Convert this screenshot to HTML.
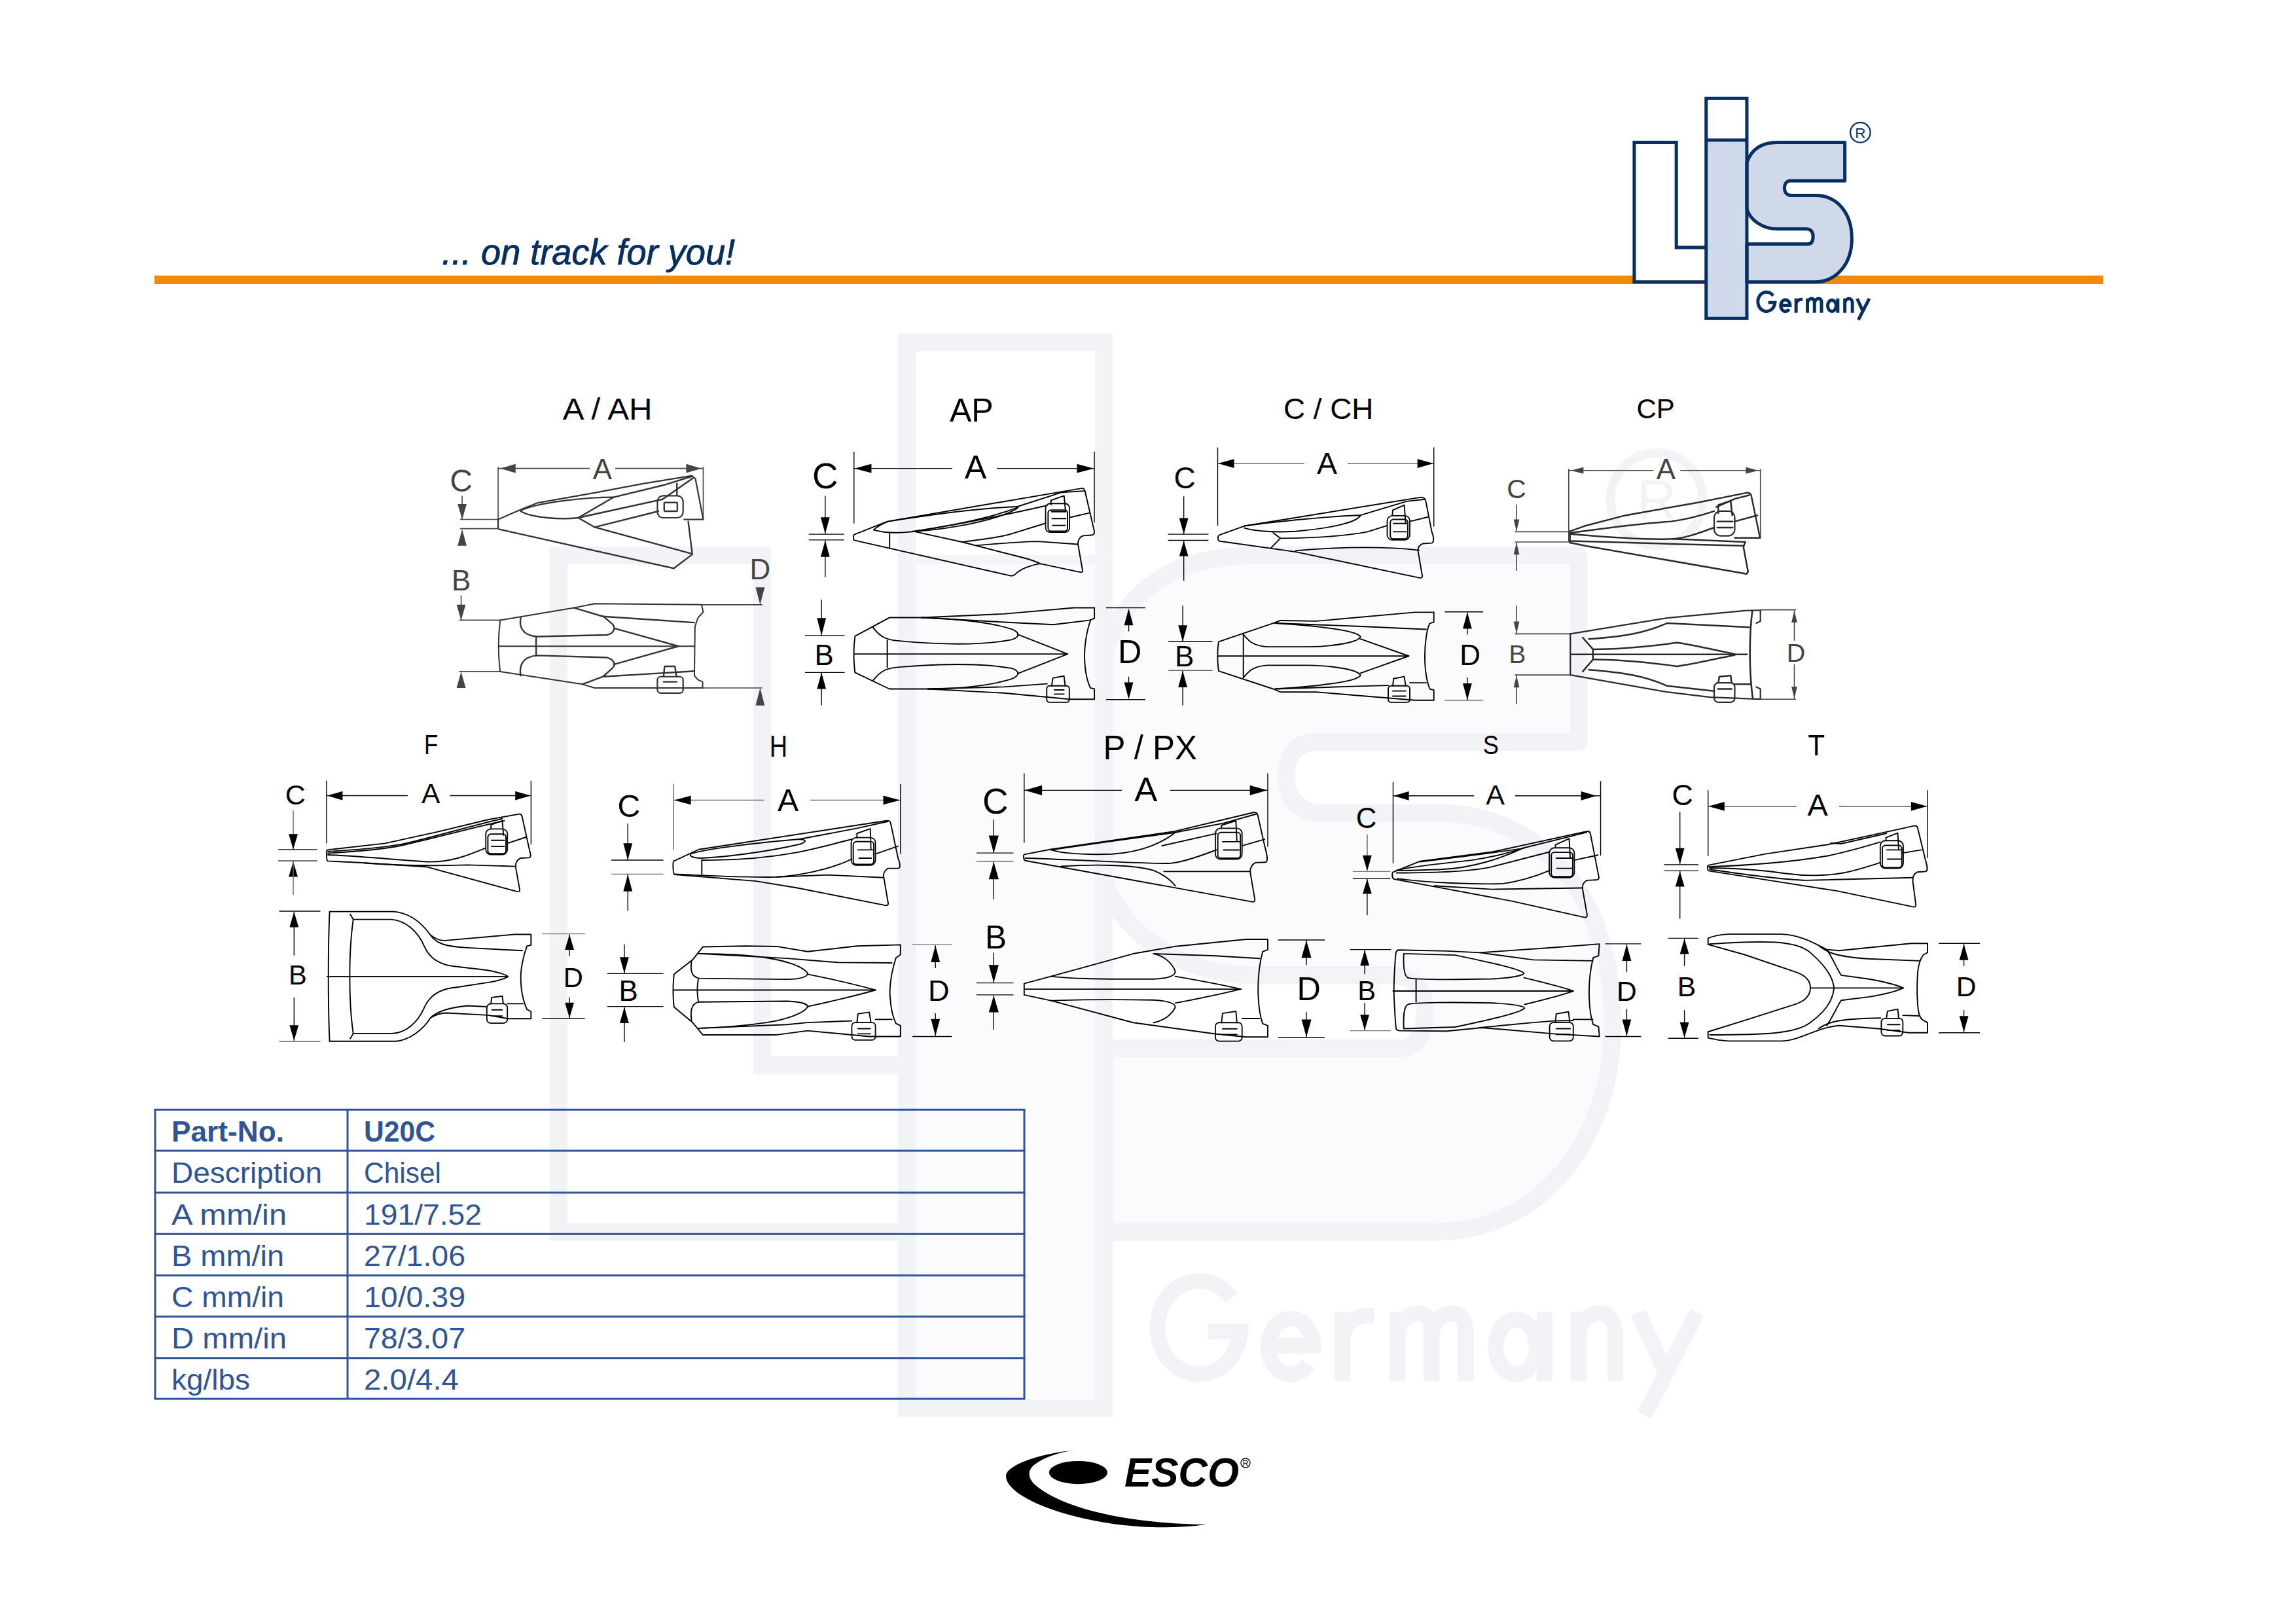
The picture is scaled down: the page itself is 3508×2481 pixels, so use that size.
<!DOCTYPE html>
<html><head><meta charset="utf-8"><title>LIS U20C</title>
<style>
html,body{margin:0;padding:0;background:#fff;}
body{width:3508px;height:2481px;overflow:hidden;position:relative;}
svg{position:absolute;left:0;top:0;}
text{font-family:"Liberation Sans",sans-serif;}
</style></head><body>
<svg width="3508" height="2481" viewBox="0 0 3508 2481">
<defs></defs>
<rect width="3508" height="2481" fill="#fff"/>
<!-- watermark -->
<g transform="translate(625.9,424.8) scale(1.10389)">
  <path d="M680,1089 H488 V384 H206 V1320 H680" fill="#fff" stroke="#f2f3f7" stroke-width="24.5"/>
  <rect x="688" y="89" width="273" height="1475" fill="#fff" stroke="none"/>
  <rect x="688" y="389.7" width="273" height="1174.3" fill="#fbfbfd" stroke="none"/>
  <path d="M961,520 C990,430 1060,384 1170,384 L1618,384 L1618,642 L1255,642 C1225,642 1213,665 1213,690 C1213,718 1230,740 1260,740 L1420,740 C1570,740 1665,860 1665,1030 C1665,1200 1560,1320 1420,1320 L961,1320 L961,1066 L1370,1066 C1395,1066 1405,1045 1405,1015 C1405,985 1390,965 1360,965 L1170,965 C1060,965 980,900 961,830 Z" fill="#fbfbfd" stroke="#f2f3f7" stroke-width="24.5" stroke-linejoin="round"/>
  <rect x="688" y="89" width="273" height="1475" fill="none" stroke="#f2f3f7" stroke-width="24.5"/>
  <line x1="688" y1="389.7" x2="961" y2="389.7" stroke="#f4f5f8" stroke-width="12.7"/>
  <g transform="translate(1009.5,1338.6) scale(0.36321)" fill="none" stroke="#f2f3f7" stroke-width="60">
    <path d="M352,202 A158,178 0 1 0 386,328 L262,328" stroke-linejoin="miter"/>
    <path d="M493,382 L664,382 A86,106 0 1 0 645,452"/>
    <path d="M775,517 L775,253 M775,345 C788,290 828,266 896,268"/>
    <path d="M985,517 L985,253 M985,335 C995,282 1030,258 1062,258 C1100,258 1115,288 1115,335 L1115,517 M1115,335 C1125,282 1160,258 1192,258 C1230,258 1245,288 1245,335 L1245,517"/>
    <ellipse cx="1437" cy="387" rx="78" ry="104"/>
    <path d="M1545,253 L1545,517"/>
    <path d="M1675,517 L1675,253 M1675,335 C1685,282 1720,258 1752,258 C1790,258 1815,288 1815,335 L1815,517"/>
    <path d="M1903,256 L2018,508 M2127,256 L1925,648"/>
  </g>
  <circle cx="1726" cy="306" r="64" fill="none" stroke="#f2f3f6" stroke-width="12.7"/>
  <text x="1726" y="333" text-anchor="middle" font-family="Liberation Sans" font-size="75" fill="#f2f3f6">R</text></g>

<rect x="236" y="421" width="2977" height="13" fill="#f08a08"/>
<text x="675" y="404" font-family="Liberation Sans" font-style="italic" font-size="56" fill="#082f60" stroke="#082f60" stroke-width="0.9" textLength="448" lengthAdjust="spacingAndGlyphs">... on track for you!</text>
<g transform="translate(2450,130) scale(0.227843)">
  <path d="M680,1089 H488 V384 H206 V1320 H680" fill="#fff" stroke="#082f60" stroke-width="22"/>
  <rect x="688" y="89" width="273" height="1475" fill="#fff" stroke="none"/>
  <rect x="688" y="369" width="273" height="1195" fill="#d0d9ea" stroke="none"/>
  <path d="M961,520 C990,430 1060,384 1170,384 L1618,384 L1618,642 L1255,642 C1225,642 1213,665 1213,690 C1213,718 1230,740 1260,740 L1420,740 C1570,740 1665,860 1665,1030 C1665,1200 1560,1320 1420,1320 L961,1320 L961,1066 L1370,1066 C1395,1066 1405,1045 1405,1015 C1405,985 1390,965 1360,965 L1170,965 C1060,965 980,900 961,830 Z" fill="#d0d9ea" stroke="#082f60" stroke-width="22" stroke-linejoin="round"/>
  <rect x="688" y="89" width="273" height="1475" fill="none" stroke="#082f60" stroke-width="22"/>
  <line x1="688" y1="369" x2="961" y2="369" stroke="#082f60" stroke-width="22"/>
  <g transform="translate(1009.5,1338.6) scale(0.36321)" fill="none" stroke="#082f60" stroke-width="60">
    <path d="M352,202 A158,178 0 1 0 386,328 L262,328" stroke-linejoin="miter"/>
    <path d="M493,382 L664,382 A86,106 0 1 0 645,452"/>
    <path d="M775,517 L775,253 M775,345 C788,290 828,266 896,268"/>
    <path d="M985,517 L985,253 M985,335 C995,282 1030,258 1062,258 C1100,258 1115,288 1115,335 L1115,517 M1115,335 C1125,282 1160,258 1192,258 C1230,258 1245,288 1245,335 L1245,517"/>
    <ellipse cx="1437" cy="387" rx="78" ry="104"/>
    <path d="M1545,253 L1545,517"/>
    <path d="M1675,517 L1675,253 M1675,335 C1685,282 1720,258 1752,258 C1790,258 1815,288 1815,335 L1815,517"/>
    <path d="M1903,256 L2018,508 M2127,256 L1925,648"/>
  </g>
  <circle cx="1722" cy="318" r="67" fill="none" stroke="#082f60" stroke-width="10"/>
  <text x="1722" y="355" text-anchor="middle" font-family="Liberation Sans" font-size="99" fill="#082f60">R</text></g>

<g stroke="#2f5597" stroke-width="3" fill="none">
<line x1="235.5" y1="1695.3" x2="1566.5" y2="1695.3"/>
<line x1="235.5" y1="1758.1" x2="1566.5" y2="1758.1"/>
<line x1="235.5" y1="1822" x2="1566.5" y2="1822"/>
<line x1="235.5" y1="1885.2" x2="1566.5" y2="1885.2"/>
<line x1="235.5" y1="1948.4" x2="1566.5" y2="1948.4"/>
<line x1="235.5" y1="2011.2" x2="1566.5" y2="2011.2"/>
<line x1="235.5" y1="2074.8" x2="1566.5" y2="2074.8"/>
<line x1="235.5" y1="2136.9" x2="1566.5" y2="2136.9"/>
<line x1="237" y1="1695.3" x2="237" y2="2136.9"/>
<line x1="531" y1="1695.3" x2="531" y2="2136.9"/>
<line x1="1565" y1="1695.3" x2="1565" y2="2136.9"/>
</g>
<g fill="#2f5597" font-family="Liberation Sans" font-size="44">
<text x="262" y="1743.9" font-weight="bold" textLength="172" lengthAdjust="spacingAndGlyphs">Part-No.</text><text x="556" y="1743.9" font-weight="bold" textLength="109" lengthAdjust="spacingAndGlyphs">U20C</text>
<text x="262" y="1806.7" textLength="230" lengthAdjust="spacingAndGlyphs">Description</text><text x="556" y="1806.7" textLength="118" lengthAdjust="spacingAndGlyphs">Chisel</text>
<text x="262" y="1870.6" textLength="176" lengthAdjust="spacingAndGlyphs">A mm/in</text><text x="556" y="1870.6" textLength="180" lengthAdjust="spacingAndGlyphs">191/7.52</text>
<text x="262" y="1933.8" textLength="172" lengthAdjust="spacingAndGlyphs">B mm/in</text><text x="556" y="1933.8" textLength="155" lengthAdjust="spacingAndGlyphs">27/1.06</text>
<text x="262" y="1997.0" textLength="172" lengthAdjust="spacingAndGlyphs">C mm/in</text><text x="556" y="1997.0" textLength="155" lengthAdjust="spacingAndGlyphs">10/0.39</text>
<text x="262" y="2059.8" textLength="176" lengthAdjust="spacingAndGlyphs">D mm/in</text><text x="556" y="2059.8" textLength="155" lengthAdjust="spacingAndGlyphs">78/3.07</text>
<text x="262" y="2123.4" textLength="120" lengthAdjust="spacingAndGlyphs">kg/lbs</text><text x="556" y="2123.4" textLength="145" lengthAdjust="spacingAndGlyphs">2.0/4.4</text>
</g>
<g fill="#000">
<path d="M1644,2215 C1580,2222 1537,2240 1537,2255 C1537,2290 1650,2330 1760,2333 C1800,2334 1830,2331 1843,2329 C1740,2328 1640,2310 1590,2275 C1570,2262 1568,2248 1580,2238 C1595,2226 1620,2218 1644,2215 Z"/>
<ellipse cx="1647.4" cy="2249.6" rx="44.6" ry="17.6"/>
<text x="1718" y="2271" font-family="Liberation Sans" font-weight="bold" font-style="italic" font-size="63" textLength="175" lengthAdjust="spacingAndGlyphs">ESCO</text>
<circle cx="1903" cy="2235" r="7" fill="none" stroke="#000" stroke-width="1.3"/>
<text x="1903" y="2239.5" text-anchor="middle" font-family="Liberation Sans" font-size="12">R</text>
</g>

<g transform="translate(670,580) scale(0.314010)" font-family="Liberation Sans">
<text x="822" y="195" font-size="146.6" text-anchor="middle" fill="#000" textLength="435" lengthAdjust="spacingAndGlyphs">A / AH</text>
<line x1="290" y1="432" x2="735" y2="432" stroke="#444" stroke-width="5.10"/>
<line x1="860" y1="432" x2="1288" y2="432" stroke="#444" stroke-width="5.10"/>
<line x1="290" y1="425" x2="290" y2="725" stroke="#444" stroke-width="5.10"/>
<line x1="1288" y1="425" x2="1288" y2="682" stroke="#444" stroke-width="5.10"/>
<path d="M300,432 L375,410 L375,454 Z" fill="#444"/>
<path d="M1280,432 L1205,410 L1205,454 Z" fill="#444"/>
<text x="797" y="485" font-size="139.7" text-anchor="middle" fill="#444">A</text>
<text x="110" y="545" font-size="153.6" text-anchor="middle" fill="#444">C</text>
<line x1="115" y1="565" x2="115" y2="680" stroke="#444" stroke-width="5.10"/>
<path d="M115,680 L93,605 L137,605 Z" fill="#444"/>
<line x1="105" y1="680" x2="290" y2="680" stroke="#444" stroke-width="5.10"/>
<line x1="105" y1="725" x2="290" y2="725" stroke="#444" stroke-width="5.10"/>
<path d="M115,728 L93,808 L137,808 Z" fill="#444"/>
<text x="110" y="1025" font-size="139.7" text-anchor="middle" fill="#444">B</text>
<line x1="110" y1="1050" x2="110" y2="1170" stroke="#444" stroke-width="5.10"/>
<path d="M110,1170 L88,1095 L132,1095 Z" fill="#444"/>
<line x1="100" y1="1170" x2="300" y2="1170" stroke="#444" stroke-width="5.10"/>
<line x1="100" y1="1420" x2="300" y2="1420" stroke="#444" stroke-width="5.10"/>
<path d="M110,1420 L88,1500 L132,1500 Z" fill="#444"/>
<text x="1565" y="970" font-size="139.7" text-anchor="middle" fill="#444">D</text>
<path d="M1565,1095 L1543,1010 L1587,1010 Z" fill="#444"/>
<line x1="1280" y1="1095" x2="1575" y2="1095" stroke="#444" stroke-width="5.10"/>
<line x1="1280" y1="1500" x2="1575" y2="1500" stroke="#444" stroke-width="5.10"/>
<path d="M1565,1500 L1543,1585 L1587,1585 Z" fill="#444"/>
<path d="M290,680 L290,725" fill="none" stroke="#333" stroke-width="7.64" stroke-linejoin="round" stroke-linecap="round"/>
<path d="M290,680 L400,632 L480,600 L750,552 L1000,505 L1232,468 L1250,482 L1288,680 L1195,680" fill="none" stroke="#333" stroke-width="7.01" stroke-linejoin="round" stroke-linecap="round"/>
<path d="M296,728 L1145,918 L1235,850 L1215,690" fill="none" stroke="#333" stroke-width="7.64" stroke-linejoin="round" stroke-linecap="round"/>
<path d="M400,636 C480,600 700,572 852,572 L680,672 C600,682 450,672 400,640 Z" fill="none" stroke="#333" stroke-width="7.64" stroke-linejoin="round" stroke-linecap="round"/>
<path d="M680,672 L1090,582 L1240,478" fill="none" stroke="#333" stroke-width="7.64" stroke-linejoin="round" stroke-linecap="round"/>
<path d="M852,572 L1100,512 L1235,470" fill="none" stroke="#333" stroke-width="7.64" stroke-linejoin="round" stroke-linecap="round"/>
<path d="M680,672 L760,718 L1228,846" fill="none" stroke="#333" stroke-width="7.64" stroke-linejoin="round" stroke-linecap="round"/>
<path d="M760,718 L1070,640" fill="none" stroke="#333" stroke-width="7.64" stroke-linejoin="round" stroke-linecap="round"/>
<path d="M1160,505 L1160,562" fill="none" stroke="#333" stroke-width="7.64" stroke-linejoin="round" stroke-linecap="round"/>
<rect x="1065" y="565" width="125" height="107" rx="28" fill="none" stroke="#333" stroke-width="7.01"/>
<rect x="1098" y="598" width="64" height="42" rx="4" fill="none" stroke="#333" stroke-width="7.64"/>
<path d="M300,1170 L660,1110 L760,1090 L1280,1095 L1288,1130 L1262,1160 L1248,1200 L1245,1440 L1262,1460 L1285,1470 L1285,1500 L760,1500 L700,1482 L300,1420 C290,1340 290,1250 300,1170 Z" fill="none" stroke="#333" stroke-width="6.37" stroke-linejoin="round" stroke-linecap="round"/>
<path d="M295,1297 L1245,1297" fill="none" stroke="#333" stroke-width="7.01" stroke-linejoin="round" stroke-linecap="round"/>
<path d="M400,1158 C392,1200 405,1245 480,1250 L820,1242 C858,1232 862,1205 845,1188 L800,1150" fill="none" stroke="#333" stroke-width="7.64" stroke-linejoin="round" stroke-linecap="round"/>
<path d="M400,1440 C392,1395 405,1348 480,1342 L820,1352 C858,1362 862,1390 845,1405 L800,1445" fill="none" stroke="#333" stroke-width="7.64" stroke-linejoin="round" stroke-linecap="round"/>
<path d="M855,1210 L1168,1297 L855,1385" fill="none" stroke="#333" stroke-width="7.64" stroke-linejoin="round" stroke-linecap="round"/>
<path d="M660,1110 L800,1152 L1245,1182" fill="none" stroke="#333" stroke-width="7.64" stroke-linejoin="round" stroke-linecap="round"/>
<path d="M700,1482 L800,1445 L1245,1418" fill="none" stroke="#333" stroke-width="7.64" stroke-linejoin="round" stroke-linecap="round"/>
<path d="M475,1255 L475,1340" fill="none" stroke="#333" stroke-width="7.64" stroke-linejoin="round" stroke-linecap="round"/>
<rect x="1065" y="1445" width="125" height="80" rx="16" fill="none" stroke="#333" stroke-width="7.01"/>
<path d="M1095,1445 L1100,1395 L1150,1395 L1158,1445" fill="none" stroke="#333" stroke-width="7.64" stroke-linejoin="round" stroke-linecap="round"/>
<path d="M1095,1470 L1158,1470" fill="none" stroke="#333" stroke-width="7.64" stroke-linejoin="round" stroke-linecap="round"/>
</g>
<g transform="translate(1220,580) scale(0.313953)" font-family="Liberation Sans">
<text x="842" y="205" font-size="160.6" text-anchor="middle" fill="#000" textLength="213" lengthAdjust="spacingAndGlyphs">AP</text>
<line x1="270" y1="432" x2="748" y2="432" stroke="#000" stroke-width="4.46"/>
<line x1="965" y1="432" x2="1440" y2="432" stroke="#000" stroke-width="4.46"/>
<line x1="270" y1="350" x2="270" y2="700" stroke="#000" stroke-width="4.46"/>
<line x1="1440" y1="350" x2="1440" y2="695" stroke="#000" stroke-width="4.46"/>
<path d="M272,432 L355,410 L355,454 Z" fill="#000"/>
<path d="M1438,432 L1355,410 L1355,454 Z" fill="#000"/>
<text x="862" y="480" font-size="160.6" text-anchor="middle" fill="#000">A</text>
<text x="130" y="530" font-size="174.6" text-anchor="middle" fill="#000">C</text>
<line x1="130" y1="565" x2="130" y2="750" stroke="#000" stroke-width="4.46"/>
<path d="M130,750 L108,670 L152,670 Z" fill="#000"/>
<line x1="50" y1="752" x2="222" y2="752" stroke="#000" stroke-width="4.46"/>
<line x1="50" y1="780" x2="222" y2="780" stroke="#000" stroke-width="4.46"/>
<path d="M130,782 L108,862 L152,862 Z" fill="#000"/>
<line x1="130" y1="782" x2="130" y2="960" stroke="#000" stroke-width="4.46"/>
<text x="125" y="1390" font-size="139.7" text-anchor="middle" fill="#000">B</text>
<line x1="112" y1="1070" x2="112" y2="1245" stroke="#000" stroke-width="4.46"/>
<path d="M112,1245 L90,1160 L134,1160 Z" fill="#000"/>
<line x1="32" y1="1245" x2="225" y2="1245" stroke="#000" stroke-width="4.46"/>
<line x1="32" y1="1425" x2="225" y2="1425" stroke="#000" stroke-width="4.46"/>
<path d="M112,1425 L90,1505 L134,1505 Z" fill="#000"/>
<line x1="112" y1="1425" x2="112" y2="1585" stroke="#000" stroke-width="4.46"/>
<text x="1612" y="1380" font-size="160.6" text-anchor="middle" fill="#000">D</text>
<line x1="1497" y1="1110" x2="1688" y2="1110" stroke="#000" stroke-width="4.46"/>
<line x1="1497" y1="1557" x2="1688" y2="1557" stroke="#000" stroke-width="4.46"/>
<path d="M1607,1113 L1585,1195 L1629,1195 Z" fill="#000"/>
<line x1="1607" y1="1190" x2="1607" y2="1225" stroke="#000" stroke-width="4.46"/>
<path d="M1607,1555 L1585,1473 L1629,1473 Z" fill="#000"/>
<line x1="1607" y1="1445" x2="1607" y2="1475" stroke="#000" stroke-width="4.46"/>
<path d="M275,1248 L442,1158 L600,1158 L1000,1140 L1340,1110 L1440,1110 L1440,1162 L1422,1168 C1400,1230 1392,1300 1392,1340 C1392,1400 1402,1460 1420,1500 L1440,1505 L1440,1555 L1320,1555 L1000,1525 L630,1505 L442,1505 L275,1425 C268,1370 268,1300 275,1248 Z" fill="none" stroke="#000" stroke-width="6.05" stroke-linejoin="round" stroke-linecap="round"/>
<path d="M272,1335 L1310,1335" fill="none" stroke="#000" stroke-width="6.05" stroke-linejoin="round" stroke-linecap="round"/>
<path d="M432,1270 L432,1400" fill="none" stroke="#000" stroke-width="6.05" stroke-linejoin="round" stroke-linecap="round"/>
<path d="M362,1205 C400,1255 430,1268 500,1272 C700,1290 900,1292 1040,1265 C1080,1250 1075,1230 1040,1215 C950,1185 800,1165 600,1158" fill="none" stroke="#000" stroke-width="6.05" stroke-linejoin="round" stroke-linecap="round"/>
<path d="M362,1465 C400,1415 430,1402 500,1398 C700,1382 900,1380 1040,1405 C1080,1420 1075,1440 1040,1455 C950,1485 800,1505 630,1505" fill="none" stroke="#000" stroke-width="6.05" stroke-linejoin="round" stroke-linecap="round"/>
<path d="M1068,1240 L1310,1335 L1068,1430" fill="none" stroke="#000" stroke-width="6.05" stroke-linejoin="round" stroke-linecap="round"/>
<path d="M600,1158 L1000,1180 L1240,1192 L1422,1170" fill="none" stroke="#000" stroke-width="6.05" stroke-linejoin="round" stroke-linecap="round"/>
<path d="M630,1505 L1000,1495 L1210,1480" fill="none" stroke="#000" stroke-width="6.05" stroke-linejoin="round" stroke-linecap="round"/>
<rect x="1208" y="1490" width="110" height="80" rx="14" fill="none" stroke="#000" stroke-width="6.05"/>
<path d="M1232,1490 L1238,1452 L1292,1442 L1298,1490" fill="none" stroke="#000" stroke-width="6.05" stroke-linejoin="round" stroke-linecap="round"/>
<path d="M1245,1510 L1292,1510 M1245,1530 L1292,1530" fill="none" stroke="#000" stroke-width="6.05" stroke-linejoin="round" stroke-linecap="round"/>
</g>
<g transform="translate(1300,740) scale(0.174216)" font-family="Liberation Sans">
<path d="M30,440 L320,325 L2020,35 C2040,32 2050,45 2052,55 L2135,410 C2138,430 2130,445 2110,445 L2040,450 C2005,460 1990,495 1992,525 L2032,755 C2034,768 2025,772 2012,770 L1660,695 C1560,710 1480,750 1440,790 C1430,800 1415,805 1395,800 L30,490 C20,485 20,445 30,440 Z" fill="none" stroke="#000" stroke-width="10.91" stroke-linejoin="round" stroke-linecap="round"/>
<path d="M340,425 L340,560" fill="none" stroke="#000" stroke-width="10.91" stroke-linejoin="round" stroke-linecap="round"/>
<path d="M200,400 C230,370 290,335 330,325 C800,250 1200,205 1460,195 C1480,205 1440,230 1300,280 C1100,345 800,400 500,418 C400,428 300,428 200,400 Z" fill="none" stroke="#000" stroke-width="10.91" stroke-linejoin="round" stroke-linecap="round"/>
<path d="M560,410 C900,360 1200,300 1460,205" fill="none" stroke="#000" stroke-width="10.91" stroke-linejoin="round" stroke-linecap="round"/>
<path d="M540,410 L975,505 L1500,640 C1580,660 1630,680 1660,695" fill="none" stroke="#000" stroke-width="10.91" stroke-linejoin="round" stroke-linecap="round"/>
<path d="M975,505 C1150,480 1300,470 1420,430 L1710,340" fill="none" stroke="#000" stroke-width="10.91" stroke-linejoin="round" stroke-linecap="round"/>
<path d="M1100,535 C1300,520 1500,500 1640,500 L1990,525" fill="none" stroke="#000" stroke-width="10.91" stroke-linejoin="round" stroke-linecap="round"/>
<path d="M1460,195 L1850,70 L2045,58" fill="none" stroke="#000" stroke-width="10.91" stroke-linejoin="round" stroke-linecap="round"/>
<path d="M560,410 C900,360 1300,280 1720,185" fill="none" stroke="#000" stroke-width="10.91" stroke-linejoin="round" stroke-linecap="round"/>
<path d="M1920,290 L2092,250" fill="none" stroke="#000" stroke-width="10.91" stroke-linejoin="round" stroke-linecap="round"/>
<rect x="1708" y="168" width="210" height="252" rx="40" fill="none" stroke="#000" stroke-width="10.33"/>
<rect x="1730" y="225" width="170" height="185" rx="25" fill="none" stroke="#000" stroke-width="10.91"/>
<path d="M1755,180 L1755,140 L1870,100 L1882,230" fill="none" stroke="#000" stroke-width="10.91" stroke-linejoin="round" stroke-linecap="round"/>
<path d="M1760,240 L1885,240 M1765,300 L1885,300 M1768,360 L1880,360" fill="none" stroke="#000" stroke-width="10.91" stroke-linejoin="round" stroke-linecap="round"/>
</g>
<g transform="translate(1760,580) scale(0.313953)" font-family="Liberation Sans">
<text x="859" y="192" font-size="139.7" text-anchor="middle" fill="#000" textLength="438" lengthAdjust="spacingAndGlyphs">C / CH</text>
<line x1="320" y1="408" x2="742" y2="408" stroke="#555" stroke-width="4.46"/>
<line x1="952" y1="408" x2="1372" y2="408" stroke="#555" stroke-width="4.46"/>
<line x1="320" y1="330" x2="320" y2="710" stroke="#000" stroke-width="4.46"/>
<line x1="1372" y1="330" x2="1372" y2="715" stroke="#000" stroke-width="4.46"/>
<path d="M322,408 L400,386 L400,430 Z" fill="#000"/>
<path d="M1370,408 L1292,386 L1292,430 Z" fill="#000"/>
<text x="852" y="458" font-size="148.0" text-anchor="middle" fill="#000">A</text>
<text x="160" y="530" font-size="146.6" text-anchor="middle" fill="#000">C</text>
<line x1="155" y1="568" x2="155" y2="752" stroke="#000" stroke-width="4.46"/>
<path d="M155,752 L133,674 L177,674 Z" fill="#000"/>
<line x1="78" y1="752" x2="275" y2="752" stroke="#000" stroke-width="4.46"/>
<line x1="78" y1="782" x2="275" y2="782" stroke="#000" stroke-width="4.46"/>
<path d="M155,784 L133,859 L177,859 Z" fill="#000"/>
<line x1="155" y1="784" x2="155" y2="978" stroke="#000" stroke-width="4.46"/>
<text x="158" y="1395" font-size="139.7" text-anchor="middle" fill="#000">B</text>
<line x1="150" y1="1100" x2="150" y2="1275" stroke="#000" stroke-width="4.46"/>
<path d="M150,1275 L128,1195 L172,1195 Z" fill="#000"/>
<line x1="80" y1="1275" x2="295" y2="1275" stroke="#000" stroke-width="4.46"/>
<line x1="80" y1="1415" x2="295" y2="1415" stroke="#666" stroke-width="4.46"/>
<path d="M150,1417 L128,1497 L172,1497 Z" fill="#000"/>
<line x1="150" y1="1417" x2="150" y2="1585" stroke="#000" stroke-width="4.46"/>
<text x="1548" y="1390" font-size="139.7" text-anchor="middle" fill="#000">D</text>
<line x1="1425" y1="1130" x2="1612" y2="1130" stroke="#000" stroke-width="4.46"/>
<line x1="1425" y1="1560" x2="1612" y2="1560" stroke="#666" stroke-width="4.46"/>
<path d="M1535,1132 L1513,1212 L1557,1212 Z" fill="#000"/>
<line x1="1535" y1="1132" x2="1535" y2="1240" stroke="#000" stroke-width="4.46"/>
<path d="M1535,1558 L1513,1478 L1557,1478 Z" fill="#000"/>
<line x1="1535" y1="1450" x2="1535" y2="1558" stroke="#000" stroke-width="4.46"/>
<path d="M330,755 L450,712 L1310,572 C1322,572 1328,578 1332,588 L1362,740 C1370,760 1376,790 1362,795 L1318,798 C1300,805 1292,820 1296,840 L1316,955 C1316,964 1310,966 1300,964 L700,838 L330,786 C318,782 318,760 330,755 Z" fill="none" stroke="#000" stroke-width="6.05" stroke-linejoin="round" stroke-linecap="round"/>
<path d="M450,712 C600,690 900,662 1015,660 C1000,690 900,720 700,738 C600,744 500,738 450,722" fill="none" stroke="#000" stroke-width="6.05" stroke-linejoin="round" stroke-linecap="round"/>
<path d="M590,745 L625,772 L580,818" fill="none" stroke="#000" stroke-width="6.05" stroke-linejoin="round" stroke-linecap="round"/>
<path d="M625,772 C800,770 950,760 1050,740 L1145,710" fill="none" stroke="#000" stroke-width="6.05" stroke-linejoin="round" stroke-linecap="round"/>
<path d="M700,832 C900,815 1100,808 1300,830" fill="none" stroke="#000" stroke-width="6.05" stroke-linejoin="round" stroke-linecap="round"/>
<path d="M1015,660 L1240,592 L1330,582" fill="none" stroke="#000" stroke-width="6.05" stroke-linejoin="round" stroke-linecap="round"/>
<path d="M1255,690 L1345,668" fill="none" stroke="#000" stroke-width="6.05" stroke-linejoin="round" stroke-linecap="round"/>
<rect x="1145" y="662" width="110" height="118" rx="25" fill="none" stroke="#000" stroke-width="5.73"/>
<rect x="1160" y="680" width="85" height="95" rx="15" fill="none" stroke="#000" stroke-width="6.05"/>
<path d="M1170,660 L1172,635 L1228,610 L1235,700" fill="none" stroke="#000" stroke-width="6.05" stroke-linejoin="round" stroke-linecap="round"/>
<path d="M1175,700 L1240,700 M1175,740 L1240,740" fill="none" stroke="#000" stroke-width="6.05" stroke-linejoin="round" stroke-linecap="round"/>
<path d="M325,1275 L590,1185 L625,1172 L800,1175 L1280,1132 L1372,1132 L1372,1180 L1352,1186 C1338,1215 1328,1280 1328,1345 C1328,1410 1338,1470 1352,1505 L1372,1510 L1372,1560 L1280,1560 L800,1520 L625,1520 L590,1505 L325,1418 C318,1380 318,1310 325,1275 Z" fill="none" stroke="#000" stroke-width="6.05" stroke-linejoin="round" stroke-linecap="round"/>
<path d="M320,1345 L1250,1345" fill="none" stroke="#000" stroke-width="6.05" stroke-linejoin="round" stroke-linecap="round"/>
<path d="M445,1240 L445,1450" fill="none" stroke="#000" stroke-width="6.05" stroke-linejoin="round" stroke-linecap="round"/>
<path d="M445,1240 C470,1270 490,1295 560,1300 L760,1300 C900,1298 1010,1275 1015,1250 C1000,1230 900,1205 600,1185" fill="none" stroke="#000" stroke-width="6.05" stroke-linejoin="round" stroke-linecap="round"/>
<path d="M445,1450 C470,1420 490,1395 560,1390 L760,1390 C900,1392 1010,1415 1015,1440 C1000,1460 900,1485 600,1505" fill="none" stroke="#000" stroke-width="6.05" stroke-linejoin="round" stroke-linecap="round"/>
<path d="M1015,1262 L1250,1345 L1015,1428" fill="none" stroke="#000" stroke-width="6.05" stroke-linejoin="round" stroke-linecap="round"/>
<path d="M600,1185 L1000,1200 L1335,1215" fill="none" stroke="#000" stroke-width="6.05" stroke-linejoin="round" stroke-linecap="round"/>
<path d="M600,1505 L1000,1492 L1150,1488" fill="none" stroke="#000" stroke-width="6.05" stroke-linejoin="round" stroke-linecap="round"/>
<path d="M1255,1475 L1335,1475" fill="none" stroke="#000" stroke-width="6.05" stroke-linejoin="round" stroke-linecap="round"/>
<rect x="1150" y="1490" width="105" height="80" rx="14" fill="none" stroke="#000" stroke-width="6.05"/>
<path d="M1172,1490 L1176,1455 L1228,1445 L1235,1490" fill="none" stroke="#000" stroke-width="6.05" stroke-linejoin="round" stroke-linecap="round"/>
<path d="M1172,1515 L1235,1515 M1172,1540 L1235,1540" fill="none" stroke="#000" stroke-width="6.05" stroke-linejoin="round" stroke-linecap="round"/>
</g>
<g transform="translate(2280,580) scale(0.313953)" font-family="Liberation Sans">
<text x="795" y="188" font-size="134.1" text-anchor="middle" fill="#000" textLength="185" lengthAdjust="spacingAndGlyphs">CP</text>
<line x1="372" y1="442" x2="785" y2="442" stroke="#444" stroke-width="5.10"/>
<line x1="915" y1="442" x2="1305" y2="442" stroke="#444" stroke-width="5.10"/>
<line x1="372" y1="435" x2="372" y2="790" stroke="#444" stroke-width="5.10"/>
<line x1="1305" y1="435" x2="1305" y2="772" stroke="#444" stroke-width="5.10"/>
<path d="M382,442 L444,426 L444,458 Z" fill="#444"/>
<path d="M1296,442 L1234,426 L1234,458 Z" fill="#444"/>
<text x="845" y="485" font-size="139.7" text-anchor="middle" fill="#444">A</text>
<text x="118" y="578" font-size="129.9" text-anchor="middle" fill="#444">C</text>
<line x1="118" y1="608" x2="118" y2="735" stroke="#444" stroke-width="5.10"/>
<path d="M118,738 L104,680 L132,680 Z" fill="#444"/>
<line x1="110" y1="740" x2="372" y2="740" stroke="#444" stroke-width="5.10"/>
<line x1="110" y1="790" x2="372" y2="790" stroke="#444" stroke-width="5.10"/>
<path d="M118,793 L104,851 L132,851 Z" fill="#444"/>
<line x1="118" y1="793" x2="118" y2="930" stroke="#444" stroke-width="5.10"/>
<text x="122" y="1378" font-size="122.9" text-anchor="middle" fill="#444">B</text>
<line x1="118" y1="1100" x2="118" y2="1235" stroke="#444" stroke-width="5.10"/>
<path d="M118,1235 L104,1177 L132,1177 Z" fill="#444"/>
<line x1="110" y1="1237" x2="380" y2="1237" stroke="#444" stroke-width="5.10"/>
<line x1="110" y1="1437" x2="380" y2="1437" stroke="#444" stroke-width="5.10"/>
<path d="M118,1440 L104,1498 L132,1498 Z" fill="#444"/>
<line x1="118" y1="1440" x2="118" y2="1580" stroke="#444" stroke-width="5.10"/>
<text x="1478" y="1372" font-size="125.7" text-anchor="middle" fill="#444">D</text>
<line x1="1305" y1="1120" x2="1478" y2="1120" stroke="#444" stroke-width="5.10"/>
<line x1="1305" y1="1555" x2="1478" y2="1555" stroke="#444" stroke-width="5.10"/>
<path d="M1470,1124 L1456,1182 L1484,1182 Z" fill="#444"/>
<line x1="1470" y1="1124" x2="1470" y2="1270" stroke="#444" stroke-width="5.10"/>
<path d="M1470,1552 L1456,1494 L1484,1494 Z" fill="#444"/>
<line x1="1470" y1="1385" x2="1470" y2="1552" stroke="#444" stroke-width="5.10"/>
<path d="M378,738 L378,793" fill="none" stroke="#2a2a2a" stroke-width="7.96" stroke-linejoin="round" stroke-linecap="round"/>
<path d="M378,738 L450,712 L650,660 L1000,598 L1230,552 C1245,548 1255,552 1260,562 L1303,770 L1180,770" fill="none" stroke="#2a2a2a" stroke-width="7.64" stroke-linejoin="round" stroke-linecap="round"/>
<path d="M378,793 L460,810 L1238,945 L1245,935 L1222,812 L1232,790" fill="none" stroke="#2a2a2a" stroke-width="7.96" stroke-linejoin="round" stroke-linecap="round"/>
<path d="M385,745 C500,730 700,700 870,690 C950,680 1020,660 1080,640" fill="none" stroke="#2a2a2a" stroke-width="7.96" stroke-linejoin="round" stroke-linecap="round"/>
<path d="M385,752 C600,770 800,780 880,775 C950,770 1020,740 1080,720" fill="none" stroke="#2a2a2a" stroke-width="7.96" stroke-linejoin="round" stroke-linecap="round"/>
<path d="M385,785 L900,800 L1225,808" fill="none" stroke="#2a2a2a" stroke-width="7.96" stroke-linejoin="round" stroke-linecap="round"/>
<path d="M880,775 L1230,790" fill="none" stroke="#2a2a2a" stroke-width="7.96" stroke-linejoin="round" stroke-linecap="round"/>
<path d="M1180,690 L1290,660" fill="none" stroke="#2a2a2a" stroke-width="7.96" stroke-linejoin="round" stroke-linecap="round"/>
<path d="M1090,620 L1180,580 L1250,562" fill="none" stroke="#2a2a2a" stroke-width="7.96" stroke-linejoin="round" stroke-linecap="round"/>
<rect x="1080" y="640" width="100" height="120" rx="30" fill="none" stroke="#2a2a2a" stroke-width="7.01"/>
<path d="M1100,650 L1100,610 L1160,590 L1168,660 M1095,690 L1170,690 M1095,720 L1170,720" fill="none" stroke="#2a2a2a" stroke-width="7.96" stroke-linejoin="round" stroke-linecap="round"/>
<path d="M380,1237 L380,1437" fill="none" stroke="#2a2a2a" stroke-width="7.01" stroke-linejoin="round" stroke-linecap="round"/>
<path d="M380,1237 L850,1160 L1230,1124 L1305,1122 L1305,1175 L1285,1185" fill="none" stroke="#2a2a2a" stroke-width="7.01" stroke-linejoin="round" stroke-linecap="round"/>
<path d="M380,1437 L850,1520 L1060,1545 L1305,1555 L1305,1505 L1285,1495" fill="none" stroke="#2a2a2a" stroke-width="7.01" stroke-linejoin="round" stroke-linecap="round"/>
<path d="M1265,1128 C1250,1250 1250,1430 1268,1552" fill="none" stroke="#2a2a2a" stroke-width="8.28" stroke-linejoin="round" stroke-linecap="round"/>
<path d="M385,1337 L1240,1337" fill="none" stroke="#2a2a2a" stroke-width="7.96" stroke-linejoin="round" stroke-linecap="round"/>
<path d="M440,1255 L490,1312 L490,1362 L440,1420" fill="none" stroke="#2a2a2a" stroke-width="7.96" stroke-linejoin="round" stroke-linecap="round"/>
<path d="M490,1312 C600,1312 750,1300 900,1280 C1000,1295 1100,1320 1180,1335" fill="none" stroke="#2a2a2a" stroke-width="7.96" stroke-linejoin="round" stroke-linecap="round"/>
<path d="M490,1362 C600,1362 750,1375 900,1395 C1000,1380 1100,1355 1180,1340" fill="none" stroke="#2a2a2a" stroke-width="7.96" stroke-linejoin="round" stroke-linecap="round"/>
<path d="M470,1262 C650,1250 750,1230 850,1185 L1250,1205" fill="none" stroke="#2a2a2a" stroke-width="7.96" stroke-linejoin="round" stroke-linecap="round"/>
<path d="M470,1412 C650,1425 750,1445 850,1490 L1080,1515" fill="none" stroke="#2a2a2a" stroke-width="7.96" stroke-linejoin="round" stroke-linecap="round"/>
<path d="M1180,1482 L1255,1482" fill="none" stroke="#2a2a2a" stroke-width="7.96" stroke-linejoin="round" stroke-linecap="round"/>
<rect x="1080" y="1475" width="100" height="95" rx="20" fill="none" stroke="#2a2a2a" stroke-width="7.01"/>
<path d="M1100,1475 L1105,1445 L1160,1440 L1165,1475 M1098,1505 L1165,1505" fill="none" stroke="#2a2a2a" stroke-width="7.96" stroke-linejoin="round" stroke-linecap="round"/>
</g>
<g transform="translate(400,1100) scale(0.314010)" font-family="Liberation Sans">
<text x="824" y="165" font-size="135.5" text-anchor="middle" fill="#000" textLength="68" lengthAdjust="spacingAndGlyphs">F</text>
<line x1="315" y1="368" x2="710" y2="368" stroke="#000" stroke-width="4.46"/>
<line x1="915" y1="368" x2="1310" y2="368" stroke="#000" stroke-width="4.46"/>
<line x1="315" y1="295" x2="315" y2="600" stroke="#000" stroke-width="4.46"/>
<line x1="1310" y1="295" x2="1310" y2="605" stroke="#000" stroke-width="4.46"/>
<path d="M318,368 L393,346 L393,390 Z" fill="#000"/>
<path d="M1308,368 L1233,346 L1233,390 Z" fill="#000"/>
<text x="822" y="405" font-size="135.5" text-anchor="middle" fill="#000">A</text>
<text x="163" y="410" font-size="136.9" text-anchor="middle" fill="#000">C</text>
<line x1="153" y1="440" x2="153" y2="630" stroke="#666" stroke-width="4.46"/>
<path d="M153,630 L131,555 L175,555 Z" fill="#000"/>
<line x1="80" y1="630" x2="270" y2="630" stroke="#000" stroke-width="4.46"/>
<line x1="80" y1="685" x2="270" y2="685" stroke="#000" stroke-width="4.46"/>
<path d="M153,688 L131,763 L175,763 Z" fill="#000"/>
<line x1="153" y1="688" x2="153" y2="850" stroke="#666" stroke-width="4.46"/>
<text x="175" y="1285" font-size="132.7" text-anchor="middle" fill="#000">B</text>
<line x1="85" y1="930" x2="285" y2="930" stroke="#000" stroke-width="4.46"/>
<line x1="85" y1="1563" x2="285" y2="1563" stroke="#555" stroke-width="4.46"/>
<path d="M157,933 L135,1008 L179,1008 Z" fill="#000"/>
<line x1="157" y1="933" x2="157" y2="1145" stroke="#000" stroke-width="4.46"/>
<path d="M157,1560 L135,1485 L179,1485 Z" fill="#000"/>
<line x1="157" y1="1350" x2="157" y2="1560" stroke="#000" stroke-width="4.46"/>
<text x="1515" y="1300" font-size="132.7" text-anchor="middle" fill="#000">D</text>
<line x1="1365" y1="1040" x2="1572" y2="1040" stroke="#888" stroke-width="4.46"/>
<line x1="1365" y1="1453" x2="1572" y2="1453" stroke="#000" stroke-width="4.46"/>
<path d="M1497,1043 L1475,1118 L1519,1118 Z" fill="#000"/>
<line x1="1497" y1="1043" x2="1497" y2="1148" stroke="#000" stroke-width="4.46"/>
<path d="M1497,1450 L1475,1375 L1519,1375 Z" fill="#000"/>
<line x1="1497" y1="1350" x2="1497" y2="1450" stroke="#000" stroke-width="4.46"/>
<path d="M318,632 L600,600 L850,545 L1100,485 L1248,458 C1258,456 1264,460 1266,468 L1303,635 C1308,650 1312,668 1300,670 L1258,672 C1240,680 1232,700 1236,720 L1255,825 C1256,834 1250,836 1240,834 L800,714 L500,695 L320,686 C314,680 314,638 318,632 Z" fill="none" stroke="#000" stroke-width="6.05" stroke-linejoin="round" stroke-linecap="round"/>
<path d="M322,640 C450,632 600,622 700,600 C850,565 1000,520 1170,480" fill="none" stroke="#000" stroke-width="6.05" stroke-linejoin="round" stroke-linecap="round"/>
<path d="M322,648 C450,640 600,630 700,606 C850,572 1000,530 1180,490" fill="none" stroke="#000" stroke-width="6.05" stroke-linejoin="round" stroke-linecap="round"/>
<path d="M322,656 C500,664 700,684 820,690 C920,690 1000,660 1090,622" fill="none" stroke="#000" stroke-width="6.05" stroke-linejoin="round" stroke-linecap="round"/>
<path d="M500,696 C700,712 900,708 1000,705 L1236,712" fill="none" stroke="#000" stroke-width="6.05" stroke-linejoin="round" stroke-linecap="round"/>
<path d="M1195,600 L1285,570" fill="none" stroke="#000" stroke-width="6.05" stroke-linejoin="round" stroke-linecap="round"/>
<rect x="1090" y="530" width="105" height="125" rx="25" fill="none" stroke="#000" stroke-width="5.73"/>
<rect x="1100" y="555" width="88" height="95" rx="15" fill="none" stroke="#000" stroke-width="6.05"/>
<path d="M1115,530 L1115,510 L1170,490 L1176,560 M1118,585 L1180,585 M1118,615 L1180,615" fill="none" stroke="#000" stroke-width="6.05" stroke-linejoin="round" stroke-linecap="round"/>
<path d="M330,932 L635,932 C720,935 780,990 820,1045 C850,1070 880,1075 900,1072 L1230,1043 L1310,1043 L1310,1095 L1290,1100 C1268,1160 1260,1220 1260,1250 C1260,1300 1268,1360 1290,1408 L1310,1418 L1310,1453 L1200,1453 L1100,1436 L900,1425 C880,1425 850,1430 820,1450 C790,1500 720,1560 650,1563 L330,1563 C322,1400 322,1100 330,932 Z" fill="none" stroke="#000" stroke-width="6.05" stroke-linejoin="round" stroke-linecap="round"/>
<path d="M430,945 L445,970 L630,970 C700,975 760,1030 790,1100 C820,1170 880,1195 950,1200 L1080,1215 C1150,1225 1190,1240 1198,1248 C1190,1256 1150,1270 1080,1280 L950,1300 C880,1305 820,1330 790,1400 C760,1470 700,1525 630,1525 L445,1525 L430,1550" fill="none" stroke="#000" stroke-width="6.05" stroke-linejoin="round" stroke-linecap="round"/>
<path d="M445,970 C432,1060 428,1150 428,1248 C428,1350 432,1440 445,1525" fill="none" stroke="#000" stroke-width="6.05" stroke-linejoin="round" stroke-linecap="round"/>
<path d="M318,1248 L1198,1248" fill="none" stroke="#000" stroke-width="6.05" stroke-linejoin="round" stroke-linecap="round"/>
<path d="M822,1048 C850,1090 900,1102 1000,1108 L1268,1122" fill="none" stroke="#000" stroke-width="6.05" stroke-linejoin="round" stroke-linecap="round"/>
<path d="M822,1448 C850,1420 900,1400 1000,1390 L1095,1395" fill="none" stroke="#000" stroke-width="6.05" stroke-linejoin="round" stroke-linecap="round"/>
<path d="M1195,1380 L1270,1380" fill="none" stroke="#000" stroke-width="6.05" stroke-linejoin="round" stroke-linecap="round"/>
<rect x="1095" y="1380" width="100" height="95" rx="20" fill="none" stroke="#000" stroke-width="5.73"/>
<path d="M1115,1380 L1118,1350 L1170,1343 L1175,1380 M1120,1410 L1170,1410 M1120,1440 L1170,1440" fill="none" stroke="#000" stroke-width="6.05" stroke-linejoin="round" stroke-linecap="round"/>
</g>
<g transform="translate(920,1110) scale(0.313953)" font-family="Liberation Sans">
<text x="858" y="145" font-size="149.4" text-anchor="middle" fill="#000" textLength="87" lengthAdjust="spacingAndGlyphs">H</text>
<line x1="348" y1="358" x2="790" y2="358" stroke="#666" stroke-width="4.46"/>
<line x1="1012" y1="358" x2="1452" y2="358" stroke="#666" stroke-width="4.46"/>
<line x1="348" y1="280" x2="348" y2="600" stroke="#666" stroke-width="4.46"/>
<line x1="1452" y1="280" x2="1452" y2="620" stroke="#000" stroke-width="4.46"/>
<path d="M350,358 L432,336 L432,380 Z" fill="#000"/>
<path d="M1450,358 L1368,336 L1368,380 Z" fill="#000"/>
<text x="905" y="412" font-size="153.6" text-anchor="middle" fill="#000">A</text>
<text x="130" y="440" font-size="153.6" text-anchor="middle" fill="#000">C</text>
<line x1="125" y1="472" x2="125" y2="650" stroke="#000" stroke-width="4.46"/>
<path d="M125,650 L103,568 L147,568 Z" fill="#000"/>
<line x1="45" y1="650" x2="298" y2="650" stroke="#000" stroke-width="4.46"/>
<line x1="45" y1="718" x2="298" y2="718" stroke="#666" stroke-width="4.46"/>
<path d="M125,720 L103,802 L147,802 Z" fill="#000"/>
<line x1="125" y1="720" x2="125" y2="897" stroke="#000" stroke-width="4.46"/>
<text x="128" y="1335" font-size="139.7" text-anchor="middle" fill="#000">B</text>
<line x1="108" y1="1060" x2="108" y2="1200" stroke="#000" stroke-width="4.46"/>
<path d="M108,1200 L86,1122 L130,1122 Z" fill="#000"/>
<line x1="25" y1="1202" x2="298" y2="1202" stroke="#000" stroke-width="4.46"/>
<line x1="25" y1="1362" x2="298" y2="1362" stroke="#000" stroke-width="4.46"/>
<path d="M108,1365 L86,1443 L130,1443 Z" fill="#000"/>
<line x1="108" y1="1365" x2="108" y2="1535" stroke="#000" stroke-width="4.46"/>
<text x="1638" y="1335" font-size="143.9" text-anchor="middle" fill="#000">D</text>
<line x1="1510" y1="1062" x2="1702" y2="1062" stroke="#666" stroke-width="4.46"/>
<line x1="1510" y1="1508" x2="1702" y2="1508" stroke="#000" stroke-width="4.46"/>
<path d="M1622,1065 L1600,1147 L1644,1147 Z" fill="#000"/>
<line x1="1622" y1="1065" x2="1622" y2="1175" stroke="#000" stroke-width="4.46"/>
<path d="M1622,1505 L1600,1423 L1644,1423 Z" fill="#000"/>
<line x1="1622" y1="1395" x2="1622" y2="1505" stroke="#000" stroke-width="4.46"/>
<path d="M348,655 L470,598 L1385,458 C1396,456 1402,462 1404,470 L1440,640 C1448,660 1456,688 1440,690 L1392,690 C1375,698 1368,715 1370,730 L1392,860 C1393,868 1388,872 1378,870 L950,785 L750,752 L352,720 C344,715 344,660 348,655 Z" fill="none" stroke="#000" stroke-width="6.05" stroke-linejoin="round" stroke-linecap="round"/>
<path d="M485,650 L485,718" fill="none" stroke="#000" stroke-width="6.05" stroke-linejoin="round" stroke-linecap="round"/>
<path d="M430,620 C480,600 700,570 960,548 C1000,550 995,565 950,575 C800,610 600,635 480,640 C440,640 425,630 430,620 Z" fill="none" stroke="#000" stroke-width="6.05" stroke-linejoin="round" stroke-linecap="round"/>
<path d="M485,650 C650,652 800,640 950,612 C1050,592 1150,565 1215,548" fill="none" stroke="#000" stroke-width="6.05" stroke-linejoin="round" stroke-linecap="round"/>
<path d="M352,718 C550,728 750,735 850,732 C950,725 1100,700 1215,645" fill="none" stroke="#000" stroke-width="6.05" stroke-linejoin="round" stroke-linecap="round"/>
<path d="M850,732 L1100,722 L1370,735" fill="none" stroke="#000" stroke-width="6.05" stroke-linejoin="round" stroke-linecap="round"/>
<path d="M960,548 L1240,495 L1390,462" fill="none" stroke="#000" stroke-width="6.05" stroke-linejoin="round" stroke-linecap="round"/>
<path d="M1330,620 L1440,582" fill="none" stroke="#000" stroke-width="6.05" stroke-linejoin="round" stroke-linecap="round"/>
<rect x="1212" y="540" width="118" height="135" rx="25" fill="none" stroke="#000" stroke-width="5.73"/>
<rect x="1222" y="560" width="100" height="110" rx="15" fill="none" stroke="#000" stroke-width="6.05"/>
<path d="M1240,540 L1240,520 L1305,497 L1308,600 M1245,600 L1320,600 M1250,640 L1310,640" fill="none" stroke="#000" stroke-width="6.05" stroke-linejoin="round" stroke-linecap="round"/>
<path d="M350,1205 L440,1135 L490,1072 L700,1068 L850,1070 L1000,1095 L1240,1068 L1452,1062 L1452,1110 L1430,1125 C1415,1170 1402,1230 1400,1290 C1402,1350 1412,1410 1430,1445 L1452,1455 L1452,1508 L1300,1508 L1000,1480 L850,1500 L490,1500 L440,1440 L350,1365 C344,1320 344,1250 350,1205 Z" fill="none" stroke="#000" stroke-width="6.05" stroke-linejoin="round" stroke-linecap="round"/>
<path d="M350,1282 L1330,1282" fill="none" stroke="#000" stroke-width="6.05" stroke-linejoin="round" stroke-linecap="round"/>
<path d="M468,1230 C462,1260 462,1300 468,1335" fill="none" stroke="#000" stroke-width="6.05" stroke-linejoin="round" stroke-linecap="round"/>
<path d="M435,1140 C430,1180 430,1215 470,1225 L900,1230 C980,1228 1000,1215 1000,1200 C980,1170 900,1140 800,1125 C700,1110 550,1105 470,1105" fill="none" stroke="#000" stroke-width="6.05" stroke-linejoin="round" stroke-linecap="round"/>
<path d="M435,1430 C430,1390 430,1350 470,1340 L900,1336 C980,1340 1000,1350 1000,1365 C980,1395 900,1425 800,1440 C700,1455 550,1465 470,1468" fill="none" stroke="#000" stroke-width="6.05" stroke-linejoin="round" stroke-linecap="round"/>
<path d="M1000,1205 C1150,1235 1250,1260 1330,1282 C1250,1305 1150,1330 1000,1362" fill="none" stroke="#000" stroke-width="6.05" stroke-linejoin="round" stroke-linecap="round"/>
<path d="M470,1105 L900,1128 L1150,1148 L1410,1150" fill="none" stroke="#000" stroke-width="6.05" stroke-linejoin="round" stroke-linecap="round"/>
<path d="M470,1468 L900,1450 L1000,1440 L1215,1432" fill="none" stroke="#000" stroke-width="6.05" stroke-linejoin="round" stroke-linecap="round"/>
<path d="M1330,1425 L1410,1425" fill="none" stroke="#000" stroke-width="6.05" stroke-linejoin="round" stroke-linecap="round"/>
<rect x="1215" y="1440" width="115" height="85" rx="16" fill="none" stroke="#000" stroke-width="5.73"/>
<path d="M1240,1440 L1245,1398 L1300,1390 L1308,1440 M1245,1470 L1305,1470 M1245,1495 L1305,1495" fill="none" stroke="#000" stroke-width="6.05" stroke-linejoin="round" stroke-linecap="round"/>
</g>
<g transform="translate(1480,1110) scale(0.314077)" font-family="Liberation Sans">
<text x="883" y="158" font-size="164.8" text-anchor="middle" fill="#000" textLength="457" lengthAdjust="spacingAndGlyphs">P / PX</text>
<line x1="270" y1="310" x2="745" y2="310" stroke="#000" stroke-width="4.46"/>
<line x1="980" y1="310" x2="1455" y2="310" stroke="#000" stroke-width="4.46"/>
<line x1="270" y1="228" x2="270" y2="565" stroke="#000" stroke-width="4.46"/>
<line x1="1455" y1="228" x2="1455" y2="585" stroke="#000" stroke-width="4.46"/>
<path d="M272,310 L357,286 L357,334 Z" fill="#000"/>
<path d="M1453,310 L1368,286 L1368,334 Z" fill="#000"/>
<text x="862" y="362" font-size="167.6" text-anchor="middle" fill="#000">A</text>
<text x="130" y="425" font-size="174.6" text-anchor="middle" fill="#000">C</text>
<line x1="122" y1="452" x2="122" y2="615" stroke="#000" stroke-width="4.46"/>
<path d="M122,615 L98,530 L146,530 Z" fill="#000"/>
<line x1="38" y1="615" x2="218" y2="615" stroke="#000" stroke-width="4.46"/>
<line x1="38" y1="655" x2="218" y2="655" stroke="#666" stroke-width="4.46"/>
<path d="M122,658 L98,743 L146,743 Z" fill="#000"/>
<line x1="122" y1="658" x2="122" y2="840" stroke="#000" stroke-width="4.46"/>
<text x="132" y="1078" font-size="157.8" text-anchor="middle" fill="#000">B</text>
<line x1="122" y1="1100" x2="122" y2="1245" stroke="#000" stroke-width="4.46"/>
<path d="M122,1245 L98,1160 L146,1160 Z" fill="#000"/>
<line x1="38" y1="1247" x2="218" y2="1247" stroke="#000" stroke-width="4.46"/>
<line x1="38" y1="1305" x2="218" y2="1305" stroke="#000" stroke-width="4.46"/>
<path d="M122,1308 L98,1390 L146,1390 Z" fill="#000"/>
<line x1="122" y1="1308" x2="122" y2="1475" stroke="#000" stroke-width="4.46"/>
<text x="1655" y="1330" font-size="160.6" text-anchor="middle" fill="#000">D</text>
<line x1="1505" y1="1038" x2="1732" y2="1038" stroke="#000" stroke-width="4.46"/>
<line x1="1505" y1="1513" x2="1732" y2="1513" stroke="#000" stroke-width="4.46"/>
<path d="M1643,1040 L1619,1125 L1667,1125 Z" fill="#000"/>
<line x1="1643" y1="1040" x2="1643" y2="1160" stroke="#000" stroke-width="4.46"/>
<path d="M1643,1510 L1619,1425 L1667,1425 Z" fill="#000"/>
<line x1="1643" y1="1390" x2="1643" y2="1510" stroke="#000" stroke-width="4.46"/>
<path d="M270,622 L400,597 L1000,510 L1385,418 C1396,416 1404,420 1406,430 L1440,580 C1448,610 1460,655 1445,660 L1395,662 C1378,670 1368,690 1370,710 L1392,840 C1394,850 1388,854 1378,852 L275,652 C266,648 266,626 270,622 Z" fill="none" stroke="#000" stroke-width="6.05" stroke-linejoin="round" stroke-linecap="round"/>
<path d="M400,600 C700,555 900,530 1005,515 C950,560 850,610 700,620 C550,625 450,615 400,600 Z" fill="none" stroke="#000" stroke-width="6.05" stroke-linejoin="round" stroke-linecap="round"/>
<path d="M1005,515 L1240,470 L1400,425" fill="none" stroke="#000" stroke-width="6.05" stroke-linejoin="round" stroke-linecap="round"/>
<path d="M275,640 C600,650 900,670 980,665 C1050,660 1150,620 1205,600" fill="none" stroke="#000" stroke-width="6.05" stroke-linejoin="round" stroke-linecap="round"/>
<path d="M940,580 L1205,520" fill="none" stroke="#000" stroke-width="6.05" stroke-linejoin="round" stroke-linecap="round"/>
<path d="M450,680 C600,670 800,670 900,700 C950,720 985,750 1005,775" fill="none" stroke="#000" stroke-width="6.05" stroke-linejoin="round" stroke-linecap="round"/>
<path d="M950,705 L1370,705" fill="none" stroke="#000" stroke-width="6.05" stroke-linejoin="round" stroke-linecap="round"/>
<path d="M1330,580 L1440,548" fill="none" stroke="#000" stroke-width="6.05" stroke-linejoin="round" stroke-linecap="round"/>
<rect x="1200" y="495" width="130" height="150" rx="25" fill="none" stroke="#000" stroke-width="5.73"/>
<rect x="1212" y="515" width="110" height="125" rx="15" fill="none" stroke="#000" stroke-width="6.05"/>
<path d="M1230,495 L1230,480 L1300,458 L1305,560 M1235,560 L1320,560 M1240,600 L1315,600" fill="none" stroke="#000" stroke-width="6.05" stroke-linejoin="round" stroke-linecap="round"/>
<path d="M270,1250 L400,1215 L800,1105 L1000,1070 L1350,1035 L1455,1035 L1455,1085 L1430,1095 C1418,1140 1408,1210 1408,1275 C1408,1340 1415,1400 1430,1445 L1455,1455 L1455,1510 L1350,1510 L1200,1495 L800,1440 L400,1333 L270,1305 Z" fill="none" stroke="#000" stroke-width="6.05" stroke-linejoin="round" stroke-linecap="round"/>
<path d="M270,1277 L1325,1277" fill="none" stroke="#000" stroke-width="6.05" stroke-linejoin="round" stroke-linecap="round"/>
<path d="M400,1215 C500,1225 600,1230 900,1228 C980,1225 1005,1210 1005,1190 C990,1150 950,1115 900,1105" fill="none" stroke="#000" stroke-width="6.05" stroke-linejoin="round" stroke-linecap="round"/>
<path d="M400,1333 C500,1330 600,1325 900,1330 C980,1335 1005,1350 1005,1365 C990,1400 950,1430 900,1440" fill="none" stroke="#000" stroke-width="6.05" stroke-linejoin="round" stroke-linecap="round"/>
<path d="M1005,1215 C1150,1240 1250,1260 1325,1277 C1250,1295 1150,1318 1005,1345" fill="none" stroke="#000" stroke-width="6.05" stroke-linejoin="round" stroke-linecap="round"/>
<path d="M900,1105 L1200,1115 L1415,1128" fill="none" stroke="#000" stroke-width="6.05" stroke-linejoin="round" stroke-linecap="round"/>
<path d="M1330,1420 L1415,1420" fill="none" stroke="#000" stroke-width="6.05" stroke-linejoin="round" stroke-linecap="round"/>
<rect x="1200" y="1440" width="130" height="90" rx="18" fill="none" stroke="#000" stroke-width="5.73"/>
<path d="M1230,1440 L1235,1395 L1300,1385 L1305,1440 M1235,1470 L1305,1470 M1235,1498 L1305,1498" fill="none" stroke="#000" stroke-width="6.05" stroke-linejoin="round" stroke-linecap="round"/>
</g>
<g transform="translate(2060,1110) scale(0.313953)" font-family="Liberation Sans">
<text x="694" y="135" font-size="129.9" text-anchor="middle" fill="#000" textLength="77" lengthAdjust="spacingAndGlyphs">S</text>
<line x1="218" y1="337" x2="612" y2="337" stroke="#000" stroke-width="4.46"/>
<line x1="812" y1="337" x2="1228" y2="337" stroke="#000" stroke-width="4.46"/>
<line x1="218" y1="270" x2="218" y2="665" stroke="#000" stroke-width="4.46"/>
<line x1="1228" y1="265" x2="1228" y2="628" stroke="#000" stroke-width="4.46"/>
<path d="M220,337 L295,315 L295,359 Z" fill="#000"/>
<path d="M1208,337 L1133,315 L1133,359 Z" fill="#000"/>
<text x="715" y="380" font-size="136.9" text-anchor="middle" fill="#000">A</text>
<text x="88" y="495" font-size="139.7" text-anchor="middle" fill="#000">C</text>
<line x1="92" y1="525" x2="92" y2="700" stroke="#555" stroke-width="4.46"/>
<path d="M92,702 L70,627 L114,627 Z" fill="#000"/>
<line x1="22" y1="705" x2="205" y2="705" stroke="#777" stroke-width="4.46"/>
<line x1="22" y1="740" x2="205" y2="740" stroke="#000" stroke-width="4.46"/>
<path d="M92,742 L70,814 L114,814 Z" fill="#000"/>
<line x1="92" y1="742" x2="92" y2="918" stroke="#000" stroke-width="4.46"/>
<text x="90" y="1330" font-size="132.7" text-anchor="middle" fill="#000">B</text>
<line x1="8" y1="1085" x2="208" y2="1085" stroke="#000" stroke-width="4.46"/>
<line x1="8" y1="1480" x2="208" y2="1480" stroke="#777" stroke-width="4.46"/>
<path d="M80,1088 L58,1163 L102,1163 Z" fill="#000"/>
<line x1="80" y1="1088" x2="80" y2="1205" stroke="#000" stroke-width="4.46"/>
<path d="M80,1477 L58,1402 L102,1402 Z" fill="#000"/>
<line x1="80" y1="1345" x2="80" y2="1477" stroke="#000" stroke-width="4.46"/>
<text x="1355" y="1335" font-size="135.5" text-anchor="middle" fill="#000">D</text>
<line x1="1250" y1="1057" x2="1425" y2="1057" stroke="#000" stroke-width="4.46"/>
<line x1="1250" y1="1508" x2="1425" y2="1508" stroke="#000" stroke-width="4.46"/>
<path d="M1355,1060 L1333,1140 L1377,1140 Z" fill="#000"/>
<line x1="1355" y1="1060" x2="1355" y2="1195" stroke="#000" stroke-width="4.46"/>
<path d="M1355,1505 L1333,1425 L1377,1425 Z" fill="#000"/>
<line x1="1355" y1="1375" x2="1355" y2="1505" stroke="#000" stroke-width="4.46"/>
<path d="M218,708 L350,655 L700,610 L1160,510 C1170,508 1176,512 1178,520 L1218,725 C1222,740 1218,746 1208,746 L1162,748 C1146,756 1138,772 1140,790 L1162,915 C1164,925 1158,930 1148,928 L800,850 L400,775 L222,742 C212,736 212,712 218,708 Z" fill="none" stroke="#000" stroke-width="6.05" stroke-linejoin="round" stroke-linecap="round"/>
<path d="M235,700 C300,680 450,668 600,650 C700,635 800,610 855,590 C750,640 600,690 450,695 C350,698 260,702 235,700 Z" fill="none" stroke="#000" stroke-width="6.05" stroke-linejoin="round" stroke-linecap="round"/>
<path d="M350,658 C500,640 700,615 855,592" fill="none" stroke="#000" stroke-width="6.05" stroke-linejoin="round" stroke-linecap="round"/>
<path d="M855,590 L1160,515" fill="none" stroke="#000" stroke-width="6.05" stroke-linejoin="round" stroke-linecap="round"/>
<path d="M235,712 C400,712 600,705 700,682 L980,610" fill="none" stroke="#000" stroke-width="6.05" stroke-linejoin="round" stroke-linecap="round"/>
<path d="M240,740 C400,760 600,768 750,765 C850,750 920,725 980,700" fill="none" stroke="#000" stroke-width="6.05" stroke-linejoin="round" stroke-linecap="round"/>
<path d="M420,775 L700,792 L1140,785" fill="none" stroke="#000" stroke-width="6.05" stroke-linejoin="round" stroke-linecap="round"/>
<path d="M1100,650 L1215,625" fill="none" stroke="#000" stroke-width="6.05" stroke-linejoin="round" stroke-linecap="round"/>
<rect x="978" y="590" width="122" height="145" rx="25" fill="none" stroke="#000" stroke-width="5.73"/>
<rect x="988" y="612" width="104" height="118" rx="15" fill="none" stroke="#000" stroke-width="6.05"/>
<path d="M1008,590 L1008,575 L1075,545 L1080,640 M1012,640 L1095,640 M1015,690 L1092,690" fill="none" stroke="#000" stroke-width="6.05" stroke-linejoin="round" stroke-linecap="round"/>
<path d="M245,1087 L480,1092 L640,1100 L1000,1075 L1222,1058 L1218,1115 L1192,1125 C1178,1180 1172,1240 1172,1290 C1172,1350 1178,1410 1192,1450 L1218,1460 L1222,1508 L1000,1495 L650,1465 L480,1482 L250,1480 C238,1478 232,1472 232,1465 C226,1400 222,1300 222,1287 C222,1250 226,1150 232,1100 C234,1092 238,1088 245,1087 Z" fill="none" stroke="#000" stroke-width="6.05" stroke-linejoin="round" stroke-linecap="round"/>
<path d="M218,1287 L1095,1287" fill="none" stroke="#000" stroke-width="6.05" stroke-linejoin="round" stroke-linecap="round"/>
<path d="M330,1230 L330,1340" fill="none" stroke="#000" stroke-width="6.05" stroke-linejoin="round" stroke-linecap="round"/>
<path d="M270,1105 C268,1150 268,1210 290,1222 C320,1232 500,1232 700,1228 C800,1222 855,1210 855,1200 C840,1180 700,1150 520,1112 L270,1105" fill="none" stroke="#000" stroke-width="6.05" stroke-linejoin="round" stroke-linecap="round"/>
<path d="M270,1470 C268,1420 268,1365 290,1352 C320,1342 500,1340 700,1345 C800,1350 858,1360 858,1370 C840,1392 700,1425 520,1462 L270,1470" fill="none" stroke="#000" stroke-width="6.05" stroke-linejoin="round" stroke-linecap="round"/>
<path d="M855,1222 C950,1245 1050,1270 1095,1287 C1050,1303 950,1330 858,1352" fill="none" stroke="#000" stroke-width="6.05" stroke-linejoin="round" stroke-linecap="round"/>
<path d="M640,1100 L900,1135 L1190,1140" fill="none" stroke="#000" stroke-width="6.05" stroke-linejoin="round" stroke-linecap="round"/>
<path d="M640,1465 L900,1440 L1000,1432 L1095,1430" fill="none" stroke="#000" stroke-width="6.05" stroke-linejoin="round" stroke-linecap="round"/>
<path d="M1095,1425 L1190,1425" fill="none" stroke="#000" stroke-width="6.05" stroke-linejoin="round" stroke-linecap="round"/>
<rect x="980" y="1440" width="115" height="90" rx="18" fill="none" stroke="#000" stroke-width="5.73"/>
<path d="M1008,1440 L1012,1398 L1072,1388 L1078,1440 M1012,1470 L1080,1470 M1012,1498 L1080,1498" fill="none" stroke="#000" stroke-width="6.05" stroke-linejoin="round" stroke-linecap="round"/>
</g>
<g transform="translate(2540,1110) scale(0.313953)" font-family="Liberation Sans">
<text x="749" y="140" font-size="142.5" text-anchor="middle" fill="#000" textLength="82" lengthAdjust="spacingAndGlyphs">T</text>
<line x1="222" y1="388" x2="652" y2="388" stroke="#555" stroke-width="4.46"/>
<line x1="860" y1="388" x2="1290" y2="388" stroke="#555" stroke-width="4.46"/>
<line x1="222" y1="310" x2="222" y2="630" stroke="#000" stroke-width="4.46"/>
<line x1="1290" y1="310" x2="1290" y2="640" stroke="#000" stroke-width="4.46"/>
<path d="M224,388 L302,366 L302,410 Z" fill="#000"/>
<path d="M1288,388 L1210,366 L1210,410 Z" fill="#000"/>
<text x="755" y="432" font-size="149.4" text-anchor="middle" fill="#000">A</text>
<text x="98" y="382" font-size="142.5" text-anchor="middle" fill="#000">C</text>
<line x1="85" y1="415" x2="85" y2="668" stroke="#000" stroke-width="4.46"/>
<path d="M85,670 L63,592 L107,592 Z" fill="#000"/>
<line x1="8" y1="672" x2="175" y2="672" stroke="#000" stroke-width="4.46"/>
<line x1="8" y1="702" x2="175" y2="702" stroke="#000" stroke-width="4.46"/>
<path d="M85,704 L63,779 L107,779 Z" fill="#000"/>
<line x1="85" y1="704" x2="85" y2="935" stroke="#000" stroke-width="4.46"/>
<text x="118" y="1312" font-size="135.5" text-anchor="middle" fill="#000">B</text>
<line x1="28" y1="1030" x2="175" y2="1030" stroke="#000" stroke-width="4.46"/>
<line x1="28" y1="1517" x2="175" y2="1517" stroke="#000" stroke-width="4.46"/>
<path d="M107,1032 L85,1107 L129,1107 Z" fill="#000"/>
<line x1="107" y1="1032" x2="107" y2="1165" stroke="#000" stroke-width="4.46"/>
<path d="M107,1514 L85,1439 L129,1439 Z" fill="#000"/>
<line x1="107" y1="1380" x2="107" y2="1514" stroke="#000" stroke-width="4.46"/>
<text x="1478" y="1312" font-size="135.5" text-anchor="middle" fill="#000">D</text>
<line x1="1345" y1="1055" x2="1545" y2="1055" stroke="#000" stroke-width="4.46"/>
<line x1="1345" y1="1490" x2="1545" y2="1490" stroke="#000" stroke-width="4.46"/>
<path d="M1467,1058 L1445,1136 L1489,1136 Z" fill="#000"/>
<line x1="1467" y1="1058" x2="1467" y2="1165" stroke="#000" stroke-width="4.46"/>
<path d="M1467,1487 L1445,1409 L1489,1409 Z" fill="#000"/>
<line x1="1467" y1="1380" x2="1467" y2="1487" stroke="#000" stroke-width="4.46"/>
<path d="M222,675 L500,620 L800,575 L1080,515 L1225,483 C1235,481 1240,485 1242,493 L1280,650 C1286,670 1295,700 1282,705 L1240,708 C1226,714 1218,730 1218,750 L1233,865 C1235,874 1230,880 1220,877 L850,800 L500,745 L224,702 C218,698 218,678 222,675 Z" fill="none" stroke="#000" stroke-width="6.05" stroke-linejoin="round" stroke-linecap="round"/>
<path d="M225,682 C450,675 650,655 800,630 C900,610 1000,580 1060,562" fill="none" stroke="#000" stroke-width="6.05" stroke-linejoin="round" stroke-linecap="round"/>
<path d="M230,688 C400,690 500,700 600,715 C700,728 800,726 880,712 C950,700 1000,680 1060,662" fill="none" stroke="#000" stroke-width="6.05" stroke-linejoin="round" stroke-linecap="round"/>
<path d="M230,695 C400,720 600,745 700,748 L1218,735" fill="none" stroke="#000" stroke-width="6.05" stroke-linejoin="round" stroke-linecap="round"/>
<path d="M820,567 L870,570 L1090,520" fill="none" stroke="#000" stroke-width="6.05" stroke-linejoin="round" stroke-linecap="round"/>
<path d="M1170,615 L1260,600" fill="none" stroke="#000" stroke-width="6.05" stroke-linejoin="round" stroke-linecap="round"/>
<rect x="1060" y="555" width="112" height="135" rx="25" fill="none" stroke="#000" stroke-width="5.73"/>
<rect x="1070" y="578" width="95" height="108" rx="15" fill="none" stroke="#000" stroke-width="6.05"/>
<path d="M1088,555 L1088,540 L1145,518 L1150,600 M1092,600 L1165,600 M1095,645 L1162,645" fill="none" stroke="#000" stroke-width="6.05" stroke-linejoin="round" stroke-linecap="round"/>
<path d="M222,1060 L222,1030 C250,1018 280,1012 320,1010 L580,1010 C680,1015 750,1060 800,1085 L860,1090 L1210,1055 L1290,1055 L1290,1100 L1270,1110 C1255,1130 1245,1160 1242,1200 C1238,1260 1238,1320 1245,1380 C1250,1410 1260,1425 1270,1430 L1290,1440 L1290,1490 L1200,1490 L1050,1470 L860,1455 C800,1460 750,1480 700,1500 C660,1515 620,1530 580,1530 L320,1530 C280,1528 250,1522 222,1515 L222,1485" fill="none" stroke="#000" stroke-width="6.05" stroke-linejoin="round" stroke-linecap="round"/>
<path d="M222,1060 L400,1110 L650,1195 C700,1212 720,1240 720,1272 C720,1305 700,1332 650,1350 L400,1430 L222,1485" fill="none" stroke="#000" stroke-width="6.05" stroke-linejoin="round" stroke-linecap="round"/>
<path d="M720,1272 L1172,1272" fill="none" stroke="#000" stroke-width="6.05" stroke-linejoin="round" stroke-linecap="round"/>
<path d="M230,1058 C500,1040 650,1040 720,1100 C790,1160 830,1220 835,1272 C830,1330 790,1390 720,1440 C650,1495 500,1500 230,1500" fill="none" stroke="#000" stroke-width="6.05" stroke-linejoin="round" stroke-linecap="round"/>
<path d="M800,1085 C830,1130 850,1180 870,1210 L1000,1228 C1100,1245 1150,1262 1172,1272 C1150,1282 1100,1300 1000,1316 L870,1332 C850,1362 830,1410 800,1455" fill="none" stroke="#000" stroke-width="6.05" stroke-linejoin="round" stroke-linecap="round"/>
<path d="M760,1065 C800,1100 850,1120 1000,1130 L1250,1140" fill="none" stroke="#000" stroke-width="6.05" stroke-linejoin="round" stroke-linecap="round"/>
<path d="M760,1470 C800,1440 850,1425 1000,1420 L1062,1418" fill="none" stroke="#000" stroke-width="6.05" stroke-linejoin="round" stroke-linecap="round"/>
<path d="M1170,1405 L1250,1408" fill="none" stroke="#000" stroke-width="6.05" stroke-linejoin="round" stroke-linecap="round"/>
<rect x="1065" y="1420" width="105" height="85" rx="18" fill="none" stroke="#000" stroke-width="5.73"/>
<path d="M1090,1420 L1095,1385 L1145,1375 L1150,1420 M1095,1450 L1155,1450 M1095,1478 L1155,1478" fill="none" stroke="#000" stroke-width="6.05" stroke-linejoin="round" stroke-linecap="round"/>
</g>
</svg></body></html>
